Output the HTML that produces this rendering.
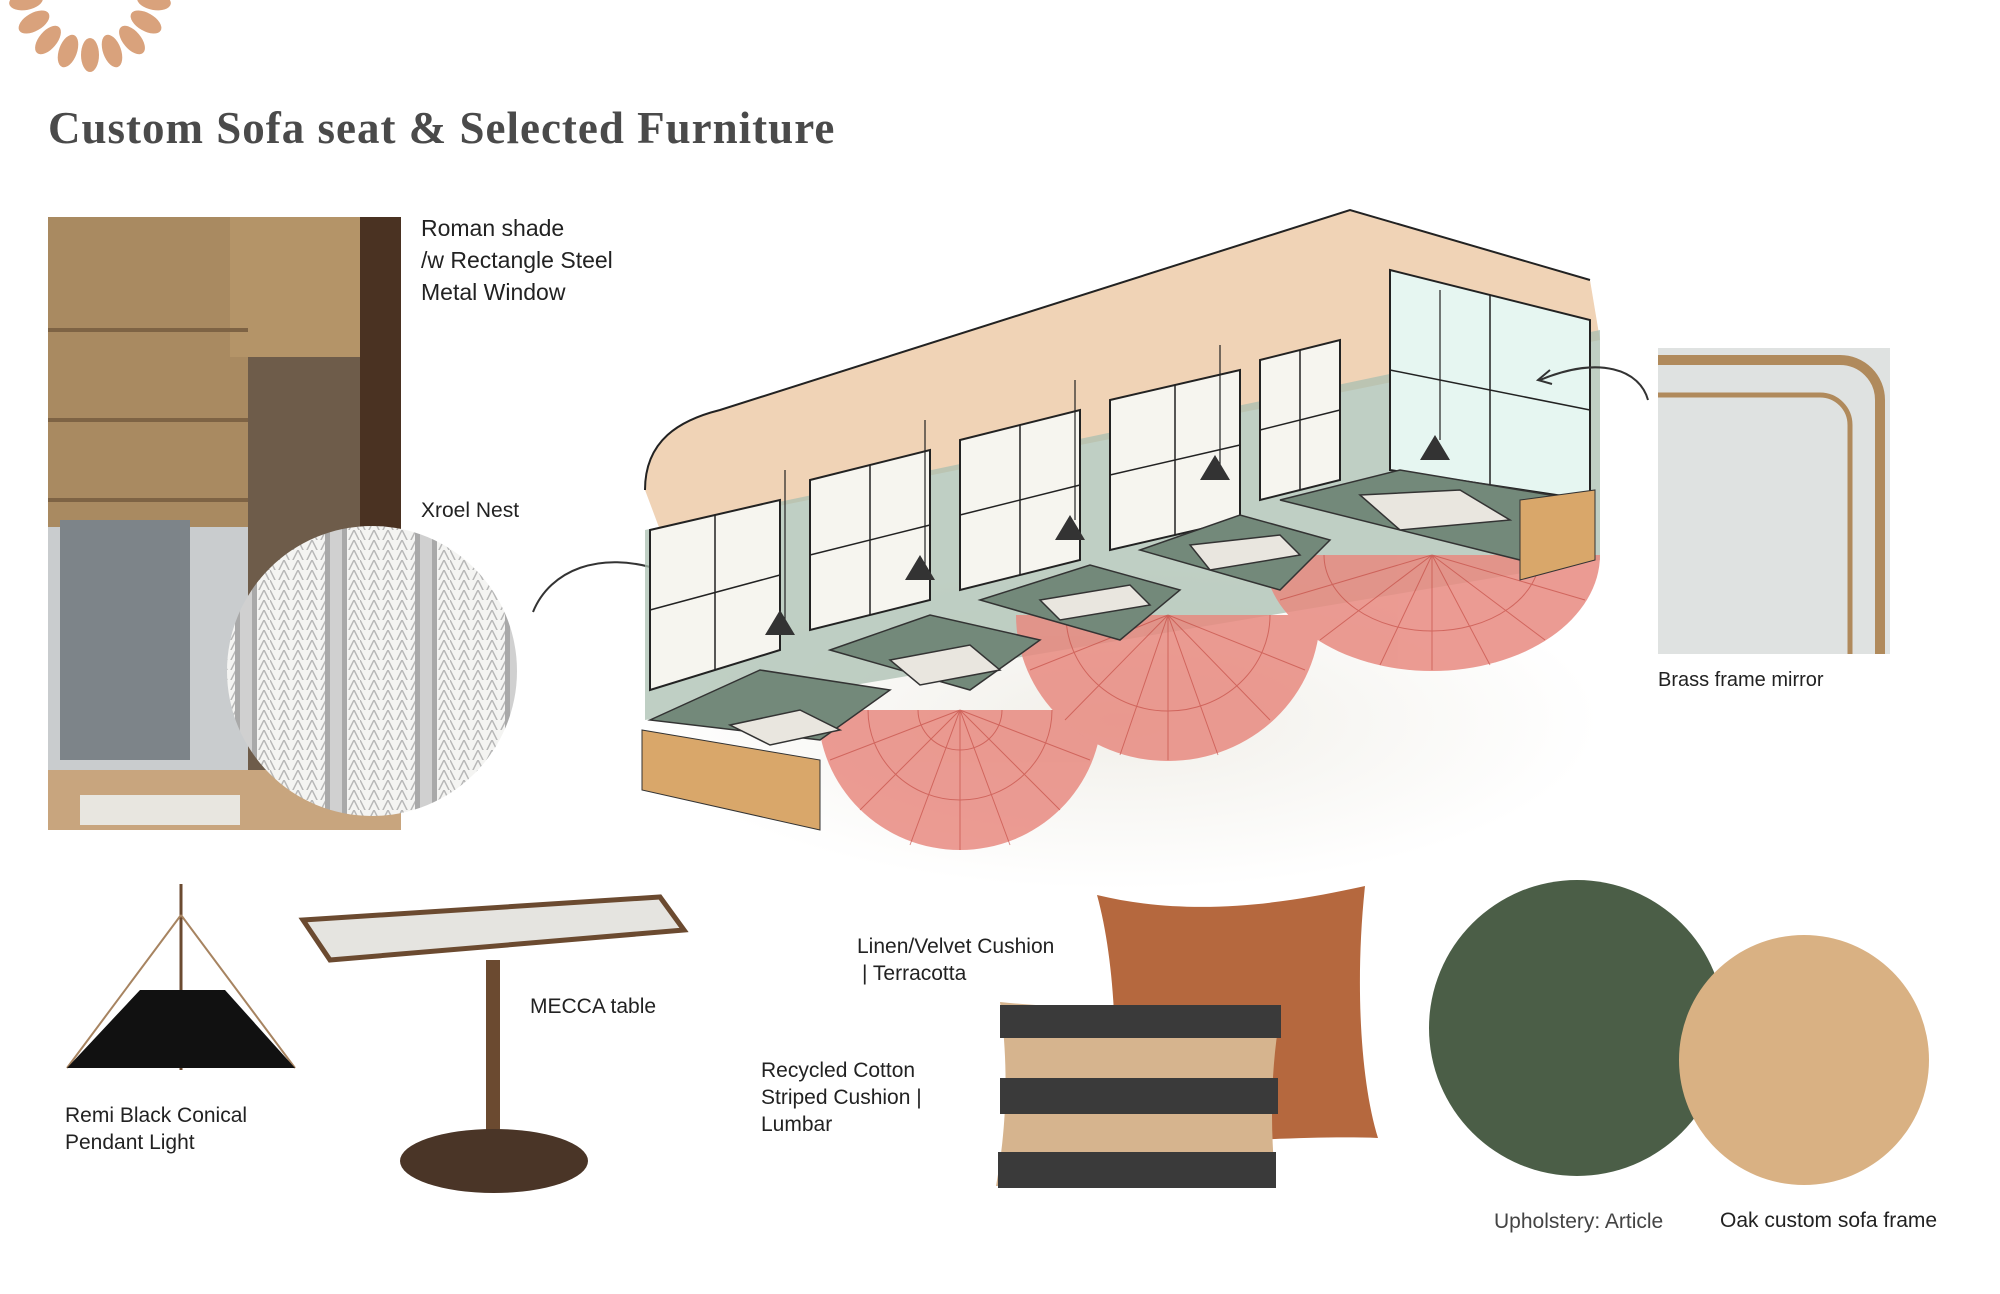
<!DOCTYPE html>
<html><head><meta charset="utf-8"><style>
html,body{margin:0;padding:0;background:#fff;width:2000px;height:1294px;overflow:hidden}
svg text{font-family:"Liberation Sans",sans-serif;fill:#222}
</style></head><body>
<svg width="2000" height="1294" viewBox="0 0 2000 1294" xmlns="http://www.w3.org/2000/svg">
<defs>
<radialGradient id="sh" cx="50%" cy="50%" r="50%"><stop offset="0" stop-color="#f1efe9"/><stop offset="1" stop-color="#fff"/></radialGradient>
<pattern id="knit" width="14" height="14" patternUnits="userSpaceOnUse"><rect width="14" height="14" fill="#f4f4f2"/><path d="M0 0L7 14L14 0" stroke="#b8b8b8" fill="none" stroke-width="1.5"/></pattern>
<pattern id="stripe" width="90" height="10" patternUnits="userSpaceOnUse"><rect width="90" height="10" fill="url(#knit)"/><rect x="55" width="22" height="10" fill="#a9a9a9"/><rect x="60" y="0" width="12" height="10" fill="#d0d0d0"/></pattern>
<clipPath id="cc"><circle cx="372" cy="671" r="145"/></clipPath>
</defs>
<g fill="#d9a27c">
<ellipse cx="26" cy="1" rx="9" ry="17" transform="rotate(80 26 1)"/>
<ellipse cx="34" cy="22" rx="9" ry="17" transform="rotate(60 34 22)"/>
<ellipse cx="48" cy="40" rx="9" ry="17" transform="rotate(40 48 40)"/>
<ellipse cx="68" cy="51" rx="9" ry="17" transform="rotate(20 68 51)"/>
<ellipse cx="90" cy="55" rx="9" ry="17"/>
<ellipse cx="112" cy="51" rx="9" ry="17" transform="rotate(-20 112 51)"/>
<ellipse cx="132" cy="40" rx="9" ry="17" transform="rotate(-40 132 40)"/>
<ellipse cx="146" cy="22" rx="9" ry="17" transform="rotate(-60 146 22)"/>
<ellipse cx="154" cy="1" rx="9" ry="17" transform="rotate(-80 154 1)"/>
</g>
<text x="48" y="143" font-size="45" font-weight="bold" style="fill:#4a4a4a;font-family:'Liberation Serif',serif;letter-spacing:1px">Custom Sofa seat &amp; Selected Furniture</text>

<rect x="48" y="217" width="353" height="613" fill="#6e5c4a"/>
<rect x="48" y="520" width="200" height="260" fill="#c9ccce"/>
<rect x="48" y="217" width="200" height="310" fill="#a98a61"/>
<rect x="230" y="217" width="130" height="140" fill="#b49468"/>
<rect x="360" y="217" width="41" height="613" fill="#4a3222"/>
<rect x="60" y="520" width="130" height="240" fill="#7d8489"/>
<rect x="48" y="770" width="353" height="60" fill="#c8a57e"/>
<rect x="80" y="795" width="160" height="30" fill="#e8e6e0"/>
<path d="M48 330h200M48 420h200M48 500h200" stroke="#7e6344" stroke-width="4"/>
<g clip-path="url(#cc)"><rect x="220" y="520" width="310" height="310" fill="url(#stripe)"/></g>
<text x="421" y="236" font-size="23">Roman shade</text>
<text x="421" y="268" font-size="23">/w Rectangle Steel</text>
<text x="421" y="300" font-size="23">Metal Window</text>
<text x="421" y="517" font-size="21">Xroel Nest</text>
<path d="M533 612C550 570 600 550 660 570" stroke="#333" stroke-width="2" fill="none"/>
<path d="M652 560l12 10-14 4" stroke="#333" stroke-width="2" fill="none"/>

<ellipse cx="1120" cy="720" rx="480" ry="170" fill="url(#sh)"/>
<path d="M645 490C645 440 680 420 720 410L1350 210L1590 280L1600 340L660 530Z" fill="#f0d3b6"/>
<path d="M645 530L1600 330L1600 560L645 720Z" fill="#a9bfb0" opacity=".75"/>
<g fill="#f6f5ef" stroke="#222" stroke-width="2">
<path d="M650 530L780 500L780 650L650 690Z"/>
<path d="M810 480L930 450L930 600L810 630Z"/>
<path d="M960 440L1080 410L1080 560L960 590Z"/>
<path d="M1110 400L1240 370L1240 520L1110 550Z"/>
<path d="M1260 360L1340 340L1340 480L1260 500Z"/>
</g>
<g stroke="#222" stroke-width="1.5">
<path d="M715 515V670M650 610L780 575M870 465V615M810 555L930 525M1020 425V575M960 515L1080 485M1175 385V535M1110 475L1240 445M1300 350V490M1260 430L1340 410"/>
</g>
<path d="M1390 270L1590 320L1590 500L1390 470Z" fill="#e6f6f1" stroke="#222" stroke-width="2"/>
<path d="M1490 295V485M1390 370L1590 410" stroke="#222" stroke-width="1.5"/>
<path d="M645 490C645 440 680 420 720 410L1350 210L1590 280" stroke="#222" stroke-width="2" fill="none"/>
<g stroke="#222" stroke-width="1.2"><path d="M785 470V620M925 420V565M1075 380V520M1220 345V480M1440 290V440"/></g>
<!-- fans: lower half-ellipses -->
<g fill="#e88a80" opacity=".85">
<path d="M818 710A142 140 0 0 0 1102 710Z"/>
<path d="M1016 615A152 146 0 0 0 1320 615Z"/>
<path d="M1264 555A168 116 0 0 0 1600 555Z"/>
</g>
<g stroke="#c0443c" stroke-width="1" opacity=".6" fill="none">
<path d="M960 710L830 760M960 710L860 810M960 710L910 845M960 710L960 850M960 710L1010 845M960 710L1060 810M960 710L1090 760"/>
<path d="M868 710A92 90 0 0 0 1052 710M918 710A42 40 0 0 0 1002 710"/>
<path d="M1168 615L1030 670M1168 615L1065 720M1168 615L1120 755M1168 615L1168 760M1168 615L1218 755M1168 615L1270 720M1168 615L1305 670"/>
<path d="M1066 615A102 96 0 0 0 1270 615"/>
<path d="M1432 555L1280 600M1432 555L1320 640M1432 555L1380 665M1432 555L1432 670M1432 555L1490 665M1432 555L1545 640M1432 555L1585 600"/>
<path d="M1324 555A108 76 0 0 0 1540 555"/>
</g>
<g fill="#73897a" stroke="#333" stroke-width="1.5">
<path d="M650 720L760 670L890 690L820 740Z"/>
<path d="M830 650L930 615L1040 640L970 690Z"/>
<path d="M980 600L1090 565L1180 590L1120 640Z"/>
<path d="M1140 550L1240 515L1330 540L1280 590Z"/>
<path d="M1280 500L1400 470L1580 500L1520 560Z"/>
</g>
<path d="M642 730L820 760L820 830L642 790Z" fill="#d9a76a" stroke="#333"/>
<path d="M1520 500L1595 490L1595 560L1520 580Z" fill="#d9a76a" stroke="#333"/>
<g fill="#e9e6df" stroke="#333" stroke-width="1.5">
<path d="M730 725L800 710L840 730L770 745Z"/>
<path d="M890 660L970 645L1000 670L920 685Z"/>
<path d="M1040 600L1130 585L1150 605L1060 620Z"/>
<path d="M1190 545L1280 535L1300 555L1210 570Z"/>
<path d="M1360 495L1460 490L1510 520L1400 530Z"/>
</g>
<g fill="#333"><path d="M780 610l-15 25h30z"/><path d="M920 555l-15 25h30z"/><path d="M1070 515l-15 25h30z"/><path d="M1215 455l-15 25h30z"/><path d="M1435 435l-15 25h30z"/></g>
<path d="M1648 400C1640 370 1600 355 1540 380" stroke="#333" stroke-width="2" fill="none"/>
<path d="M1550 370l-12 10 14 4" stroke="#333" stroke-width="2" fill="none"/>

<rect x="1658" y="348" width="232" height="306" fill="#dfe2e1"/>
<path d="M1658 360H1840A40 40 0 0 1 1880 400V654" stroke="#b08a5c" stroke-width="10" fill="none"/>
<path d="M1658 395H1820A30 30 0 0 1 1850 425V654" stroke="#b08a5c" stroke-width="5" fill="none"/>
<text x="1658" y="686" font-size="20">Brass frame mirror</text>

<line x1="181" y1="884" x2="181" y2="1070" stroke="#6b4a30" stroke-width="3"/>
<path d="M181 915L67 1068M181 915L295 1068" stroke="#a78461" stroke-width="2"/>
<path d="M140 990L225 990L295 1068L67 1068Z" fill="#111"/>
<text x="65" y="1122" font-size="21">Remi Black Conical</text>
<text x="65" y="1149" font-size="21">Pendant Light</text>

<path d="M303 920L660 897L684 930L330 960Z" fill="#e5e4e0" stroke="#6b4a30" stroke-width="5"/>
<rect x="486" y="960" width="14" height="195" fill="#6b4a30"/>
<ellipse cx="494" cy="1161" rx="94" ry="32" fill="#4a3527"/>
<text x="530" y="1013" font-size="21">MECCA table</text>

<text x="857" y="953" font-size="21">Linen/Velvet Cushion</text>
<text x="862" y="980" font-size="21">| Terracotta</text>
<text x="761" y="1077" font-size="21">Recycled Cotton</text>
<text x="761" y="1104" font-size="21">Striped Cushion |</text>
<text x="761" y="1131" font-size="21">Lumbar</text>
<path d="M1097 895C1200 920 1300 900 1365 886C1355 980 1360 1080 1378 1138C1300 1135 1200 1145 1110 1142C1120 1060 1115 960 1097 895Z" fill="#b5683e"/>
<path d="M1000 1002C1100 1012 1200 1008 1281 1010C1270 1070 1270 1130 1276 1188C1180 1185 1080 1182 996 1186C1008 1120 1008 1060 1000 1002Z" fill="#d6b48e"/>
<path d="M1000 1005H1281V1038H1000ZM1000 1078H1278V1114H1000ZM998 1152H1276V1188H998Z" fill="#3a3a3a"/>

<circle cx="1577" cy="1028" r="148" fill="#4b5e47"/>
<circle cx="1804" cy="1060" r="125" fill="#d9b183"/>
<text x="1494" y="1228" font-size="21" style="fill:#444">Upholstery: Article</text>
<text x="1720" y="1227" font-size="21">Oak custom sofa frame</text>
</svg>
</body></html>
